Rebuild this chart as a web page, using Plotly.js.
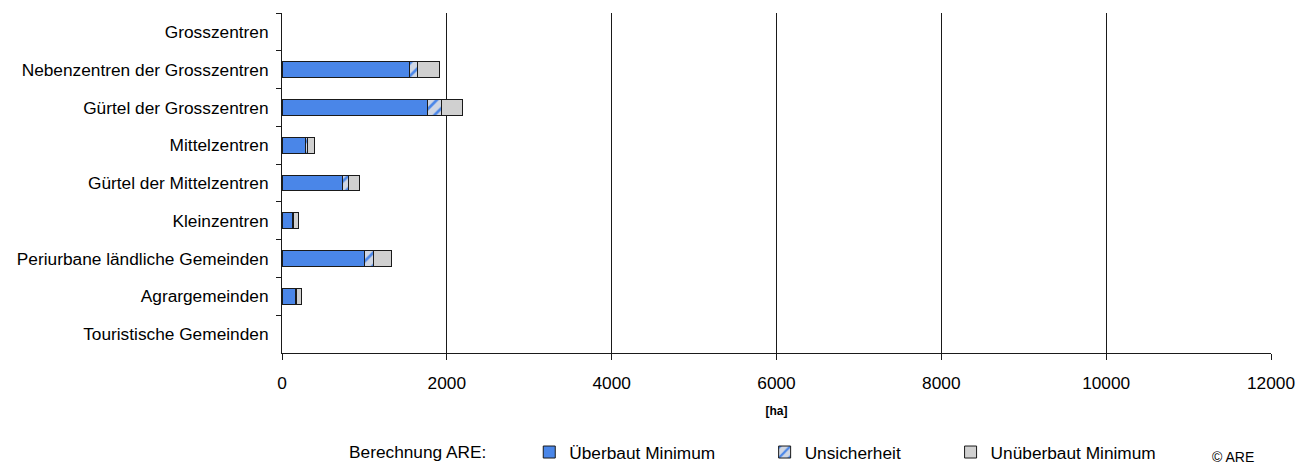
<!DOCTYPE html>
<html>
<head>
<meta charset="utf-8">
<script src="https://cdn.plot.ly/plotly-3.0.1.min.js"></script>
<style>html,body{margin:0;padding:0;background:#fff;}#chart{width:1299px;height:465px;}</style>
</head>
<body>
<div id="chart"></div>
<script>
const categories = ["Grosszentren", "Nebenzentren der Grosszentren", "Gürtel der Grosszentren", "Mittelzentren", "Gürtel der Mittelzentren", "Kleinzentren", "Periurbane ländliche Gemeinden", "Agrargemeinden", "Touristische Gemeinden"];
const ueberbautMinimum = [null, 1545, 1765, 290, 735, 125, 995, 160, null];
const unsicherheit = [null, 95, 170, 25, 70, 15, 110, 18, null];
const unueberbautMinimum = [null, 265, 250, 75, 140, 57, 220, 60, null];
const seriesNames = ["Überbaut Minimum", "Unsicherheit", "Unüberbaut Minimum"];
const xTicks = [0, 2000, 4000, 6000, 8000, 10000, 12000];

const FONT = "'Liberation Sans', Arial, sans-serif";
const FS = 17.3;
const lineStyle = {color: "#1a1a1a", width: 1};

const traces = [
  {type: "bar", orientation: "h", name: seriesNames[0], y: categories, x: ueberbautMinimum,
   width: 0.42, legend: "legend",
   marker: {color: "#4a86e8", line: lineStyle}},
  {type: "bar", orientation: "h", name: seriesNames[1], y: categories, x: unsicherheit,
   width: 0.42, legend: "legend2",
   marker: {color: "#cfd6e3", line: lineStyle,
            pattern: {shape: "/", fgcolor: "#4a86e8", bgcolor: "#cfd6e3", size: 9, solidity: 0.3}}},
  {type: "bar", orientation: "h", name: seriesNames[2], y: categories, x: unueberbautMinimum,
   width: 0.42, legend: "legend3",
   marker: {color: "#d0d0d0", line: lineStyle}}
];

const legendBase = {orientation: "h", xref: "paper", yref: "paper", yanchor: "middle", xanchor: "left",
  y: -0.292, font: {family: FONT, size: FS, color: "#000"}, bgcolor: "rgba(0,0,0,0)", borderwidth: 0};

const layout = {
  width: 1299, height: 465,
  margin: {l: 282, r: 28, t: 13, b: 112, autoexpand: false},
  paper_bgcolor: "#fff", plot_bgcolor: "#fff",
  font: {family: FONT, size: FS, color: "#000"},
  barmode: "stack",
  showlegend: true,
  legend: Object.assign({}, legendBase, {x: 0.25}),
  legend2: Object.assign({}, legendBase, {x: 0.488}),
  legend3: Object.assign({}, legendBase, {x: 0.676}),
  xaxis: {
    range: [0, 12000], tickvals: xTicks, ticktext: xTicks.map(String),
    showgrid: true, gridcolor: "#1a1a1a", gridwidth: 1,
    showline: true, linecolor: "#1a1a1a", linewidth: 1,
    ticks: "outside", ticklen: 6, tickcolor: "#1a1a1a",
    zeroline: false, fixedrange: true,
    tickfont: {family: FONT, size: FS, color: "#000"},
    ticklabelstandoff: 8,
    title: {text: "<b>[ha]</b>", font: {family: FONT, size: 12, color: "#000"}, standoff: 14}
  },
  yaxis: {
    type: "category", autorange: "reversed",
    showgrid: false, zeroline: false,
    showline: true, linecolor: "#1a1a1a", linewidth: 1,
    ticks: "outside", ticklen: 5, tickcolor: "#1a1a1a", tickson: "boundaries",
    tickfont: {family: FONT, size: FS, color: "#000"},
    ticklabelstandoff: 9
  },
  annotations: [
    {text: "Berechnung ARE:", xref: "paper", yref: "paper", x: (347 - 282) / 989, y: -0.292,
     xanchor: "left", yanchor: "middle", showarrow: false, font: {family: FONT, size: FS, color: "#000"}},
    {text: "© ARE", xref: "paper", yref: "paper", x: (1210 - 282) / 989, y: -0.306,
     xanchor: "left", yanchor: "middle", showarrow: false, font: {family: FONT, size: 14, color: "#000"}}
  ]
};

Plotly.newPlot("chart", traces, layout, {displayModeBar: false, staticPlot: true});
</script>
</body>
</html>
